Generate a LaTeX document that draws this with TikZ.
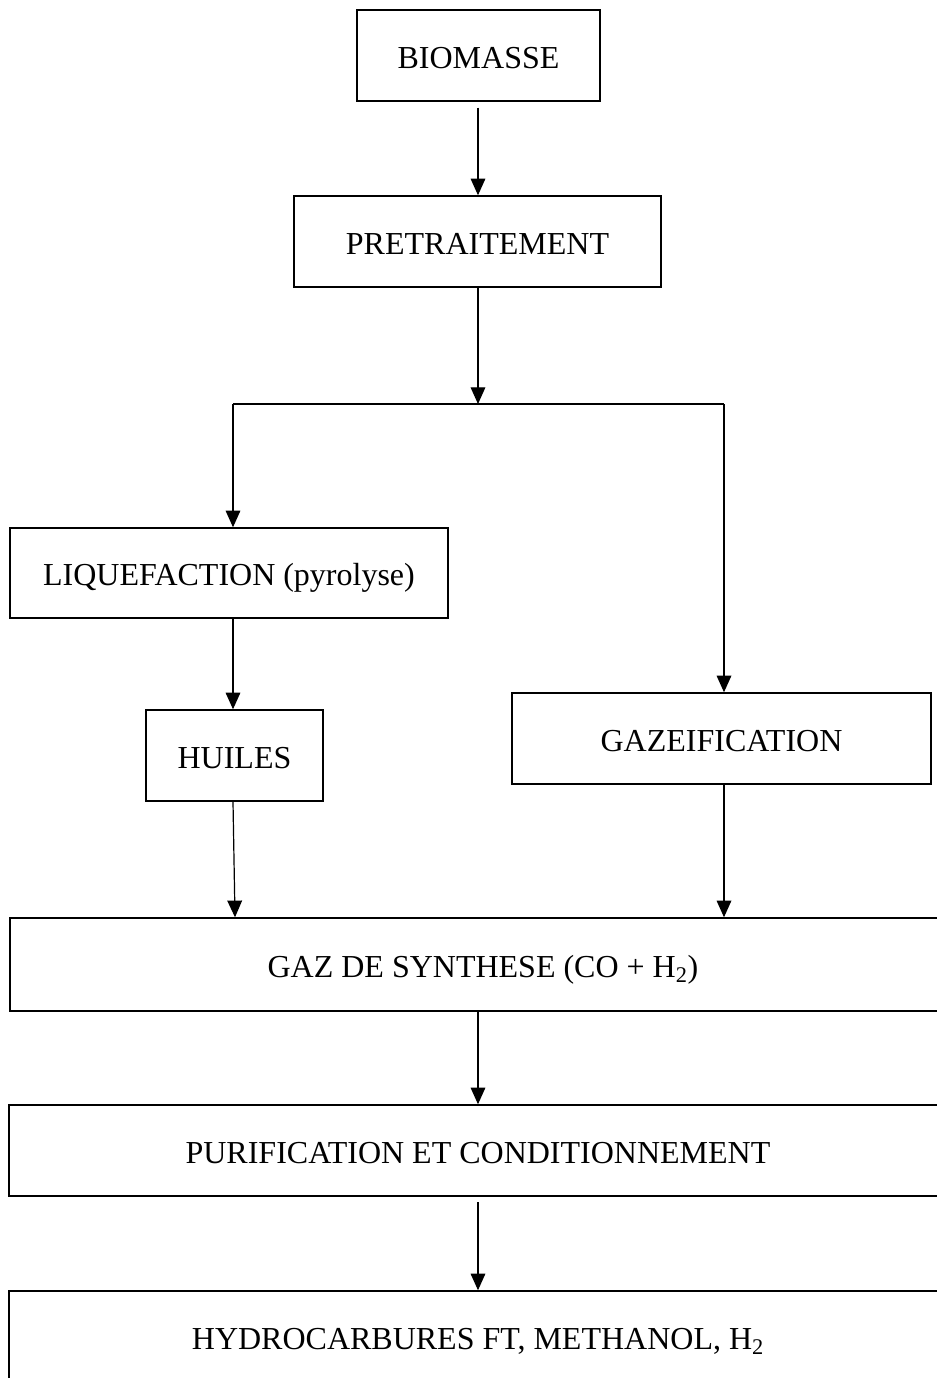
\documentclass[tikz,border=0pt]{standalone}
\usepackage{fontspec}
\setmainfont{Liberation Serif}
\usetikzlibrary{arrows.meta,calc}
\begin{document}
\begin{tikzpicture}[x=0.75pt,y=-0.75pt,
  box/.style={draw=black,line width=1.1pt,inner sep=0pt,text height=20pt,text depth=1.2pt,font=\fontsize{24}{28}\selectfont},
  conn/.style={draw=black,line width=0.9pt},
  arr/.style={conn,-{Triangle[length=12.5pt,width=11pt]}}]
\useasboundingbox (0,0) rectangle (937,1378);
\clip (0,0) rectangle (937,1378);
\fill[white] (0,0) rectangle (937,1378);
\node[box,minimum width=243*0.75pt,minimum height=91*0.75pt] (bio) at (478.5,55.5) {BIOMASSE};
\node[box,minimum width=367*0.75pt,minimum height=91*0.75pt] (pre) at (477.5,241.5) {PRETRAITEMENT};
\node[box,minimum width=438*0.75pt,minimum height=90*0.75pt] (liq) at (229,573) {LIQUEFACTION (pyrolyse)};
\node[box,minimum width=177*0.75pt,minimum height=91*0.75pt] (hui) at (234.5,755.5) {HUILES};
\node[box,minimum width=419*0.75pt,minimum height=91*0.75pt] (gaz) at (721.5,738.5) {GAZEIFICATION};
\node[box,minimum width=946*0.75pt,minimum height=93*0.75pt] (syn) at (483,964.5) {GAZ DE SYNTHESE (CO + H\textsubscript{2})};
\node[box,minimum width=938*0.75pt,minimum height=91*0.75pt] (pur) at (478,1150.5) {PURIFICATION ET CONDITIONNEMENT};
\node[box,minimum width=938*0.75pt,minimum height=92*0.75pt] (hyd) at (478,1337) {HYDROCARBURES FT, METHANOL, H\textsubscript{2}};
\coordinate (jm) at (478,404);
\coordinate (jl) at (233,404);
\coordinate (jr) at (724,404);
\draw[arr,shorten <=4.5pt] (bio.south -| jm) -- (pre.north -| jm);
\draw[arr] (pre.south -| jm) -- (jm);
\draw[conn] (jl) -- (jr);
\draw[arr] (jl) -- (jl |- liq.north);
\draw[arr] (jr) -- (jr |- gaz.north);
\draw[arr] (jl |- liq.south) -- (jl |- hui.north);
\draw[arr] (jl |- hui.south) -- ($(jl |- syn.north)+(2,0)$);
\draw[arr] (jr |- gaz.south) -- (jr |- syn.north);
\draw[arr] (syn.south -| jm) -- (pur.north -| jm);
\draw[arr,shorten <=4pt] (pur.south -| jm) -- (hyd.north -| jm);
\end{tikzpicture}
\end{document}
